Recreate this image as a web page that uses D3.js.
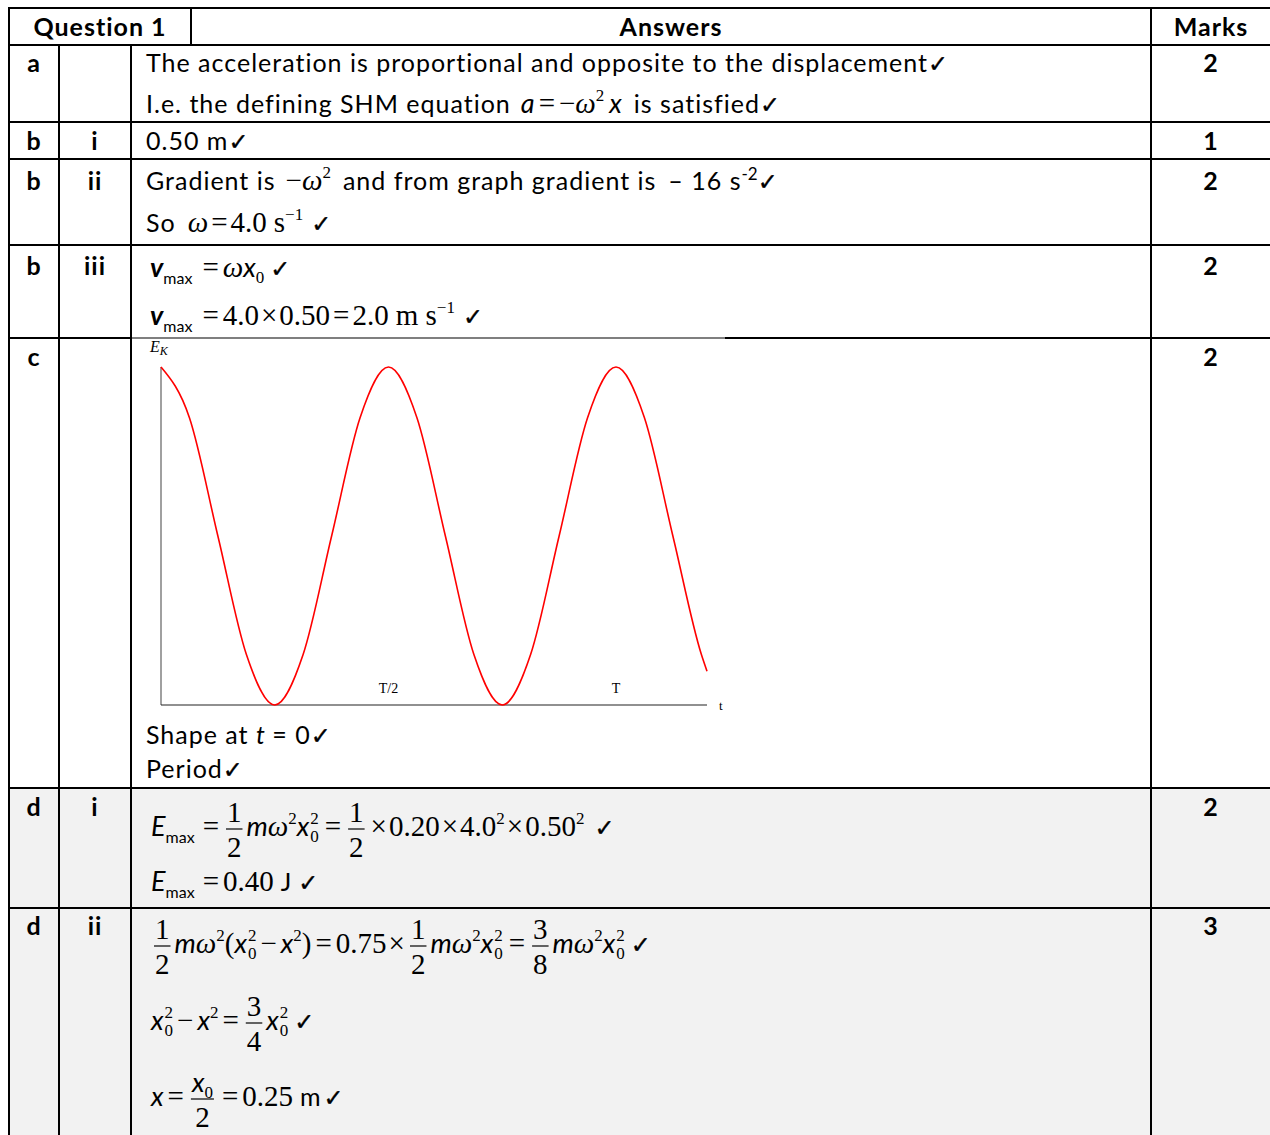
<!DOCTYPE html>
<html><head><meta charset="utf-8">
<script src="https://cdn.jsdelivr.net/npm/d3@7"></script>
<style>html,body{margin:0;padding:0;background:#fff;} svg{display:block;} text{white-space:pre;}</style>
</head><body><svg id="c" width="1270" height="1135"></svg>
<script>
// ---------------- data ----------------
const headerLabels = ["Question 1", "Answers", "Marks"];
const rowLabels = ["a", "b", "b", "b", "c", "d", "d"];
const subLabels = ["", "i", "ii", "iii", "", "i", "ii"];
const marks = [2, 1, 2, 2, 2, 2, 3];
// kinetic energy sketch (t in periods, Ek as fraction of max)
const tValues  = [0, 0.0625, 0.125, 0.1875, 0.25, 0.3125, 0.375, 0.4375, 0.5, 0.5625, 0.625, 0.6875, 0.75, 0.8125, 0.875, 0.9375, 1.0, 1.0625, 1.125, 1.1875, 1.2];
const ekValues = [1, 0.85, 0.5, 0.15, 0, 0.15, 0.5, 0.85, 1, 0.85, 0.5, 0.15, 0, 0.15, 0.5, 0.85, 1, 0.85, 0.5, 0.15, 0.1];
const tickValues = [0.5, 1];
const tickLabels = ["T/2", "T"];
const tMax = 1.2;

// ---------------- layout ----------------
const SANS = "Lato, 'Open Sans', sans-serif";
const SERIF = "'Liberation Serif', 'Times New Roman', serif";
const CHKF = "'DejaVu Sans', sans-serif";
const svg = d3.select("#c");
const X = {left: 9, c1: 59, c2: 131, qdiv: 191, mk: 1151, right: 1271};
const rowTops = [45, 122, 159, 245, 338, 788, 908];
const bottomY = 1135, topY = 8;
const labelBase = [72, 150, 190, 275, 366, 816, 935];

// gray rows
svg.append("rect").attr("x", X.left).attr("y", rowTops[5]).attr("width", X.right - X.left).attr("height", bottomY - rowTops[5]).attr("fill", "#f2f2f2");

const g = svg.append("g");

// segment helpers
const S = (t, o={}) => Object.assign({t, f: SANS, s: 25, ls: 1.0}, o);
const SI = (t, o={}) => Object.assign({t, f: SANS, s: 27, i: true}, o);
const R = (t, o={}) => Object.assign({t, f: SERIF, s: 29}, o);
const RI = (t, o={}) => Object.assign({t, f: SERIF, s: 29, i: true}, o);
const SUP = (t, o={}) => Object.assign({t, f: SERIF, s: 17, dy: -12}, o);
const SUBR = (t, o={}) => Object.assign({t, f: SERIF, s: 17, dy: 6}, o);
const SUBS = (t, o={}) => Object.assign({t, f: SANS, s: 16, dy: 7}, o);
const G = n => ({gap: n});
const OP = (t, a = 4) => [G(a), R(t), G(a)];
const CK = (o={}) => Object.assign({t: "\u2713", f: CHKF, s: 24, sw: 0.35}, o);
const SS = (a, b) => ({subsup: [a, b]});
const F = (num, den) => ({frac: [num, den]});

function put(par, x, y, s) {
  const t = par.append("text").attr("x", x).attr("y", y + (s.dy || 0))
    .attr("font-family", s.f).attr("font-size", s.s)
    .attr("font-style", s.i ? "italic" : null)
    .attr("font-weight", s.b ? "bold" : null)
    .attr("letter-spacing", s.ls || null)
    .attr("fill", "#000")
    .attr("stroke", s.sw ? "#000" : null).attr("stroke-width", s.sw || null)
    .text(s.t);
  return t.node().getComputedTextLength();
}
function run(par, x, y, segsIn) {
  const segs = segsIn.flat();
  let cx = x;
  for (const s of segs) {
    if (s.gap !== undefined) { cx += s.gap; continue; }
    if (s.subsup) {
      const w1 = put(par, cx + 1, y, SUBR(s.subsup[0]));
      const w2 = put(par, cx + 1, y, SUP(s.subsup[1]));
      cx += Math.max(w1, w2) + 1;
      continue;
    }
    if (s.frac) {
      const tmp = par.append("g");
      const wn = run(tmp, 0, 0, s.frac[0]);
      const wd = run(tmp, 0, 0, s.frac[1]);
      tmp.remove();
      cx += 3;
      const w = Math.max(wn, wd) + 2;
      run(par, cx + (w - wn) / 2, y - 14, s.frac[0]);
      run(par, cx + (w - wd) / 2, y + 21, s.frac[1]);
      par.append("line").attr("x1", cx).attr("x2", cx + w).attr("y1", y - 7).attr("y2", y - 7)
        .attr("stroke", "#000").attr("stroke-width", 1.2);
      cx += w + 4;
      continue;
    }
    cx += put(par, cx, y, s);
  }
  return cx - x;
}

function boldText(x, y, t) {
  g.append("text").attr("x", x).attr("y", y).attr("text-anchor", "middle")
    .attr("font-family", SANS).attr("font-weight", "bold").attr("font-size", 25)
    .attr("letter-spacing", 1.0).text(t);
}
// header text
boldText((X.left + X.qdiv) / 2, 36, headerLabels[0]);
boldText((X.qdiv + X.mk) / 2, 36, headerLabels[1]);
boldText((X.mk + X.right) / 2, 36, headerLabels[2]);

// row labels & marks
rowLabels.forEach((l, i) => {
  boldText((X.left + X.c1) / 2, labelBase[i], l);
  boldText((X.c1 + X.c2) / 2, labelBase[i], subLabels[i]);
  boldText((X.mk + X.right) / 2, labelBase[i], marks[i]);
});

// answer lines
const ax = 146;
run(g, ax, 72, [S("The acceleration is proportional and opposite to the displacement"), CK()]);
run(g, ax, 113, [S("I.e. the defining SHM equation"), G(10), SI("a"), OP("="), R("\u2212"), RI("\u03c9"), SUP("2"), G(5), SI("x"), G(12), S("is satisfied"), CK()]);
run(g, ax, 150, [S("0.50 m"), CK()]);
run(g, ax, 190, [S("Gradient is"), G(10), R("\u2212"), RI("\u03c9"), SUP("2"), G(12), S("and from graph gradient is"), G(12), S("\u2013 16 s"), S("-2", {s: 17, dy: -10, ls: 0}), CK()]);
run(g, ax, 232, [S("So"), G(12), RI("\u03c9"), OP("=", 3), R("4.0"), G(7), R("s"), SUP("\u22121"), G(8), CK()]);
run(g, 150, 277, [SI("v", {b: true}), SUBS("max"), G(6), OP("="), RI("\u03c9"), SI("x"), SUBR("0"), G(6), CK()]);
run(g, 150, 325, [SI("v", {b: true}), SUBS("max"), G(6), OP("="), R("4.0"), OP("\u00d7", 2), R("0.50"), OP("=", 3), R("2.0"), G(7), R("m s"), SUP("\u22121"), G(8), CK()]);
run(g, ax, 744, [S("Shape at "), SI("t", {s: 25}), S(" = 0"), CK()]);
run(g, ax, 778, [S("Period"), CK()]);

run(g, 151, 836, [SI("E"), SUBS("max"), G(4), OP("="), F([R("1")], [R("2")]), SI("m"), RI("\u03c9"), SUP("2"), SI("x"), SS("0", "2"), G(2), OP("="), F([R("1")], [R("2")]), OP("\u00d7", 2), R("0.20"), OP("\u00d7", 2), R("4.0"), SUP("2"), OP("\u00d7", 2), R("0.50"), SUP("2"), G(10), CK()]);
run(g, 151, 891, [SI("E"), SUBS("max"), G(4), OP("="), R("0.40"), G(7), S("J"), G(6), CK()]);

run(g, 151, 953, [F([R("1")], [R("2")]), SI("m"), RI("\u03c9"), SUP("2"), R("("), SI("x"), SS("0", "2"), OP("\u2212"), SI("x"), SUP("2"), R(")"), OP("="), R("0.75"), OP("\u00d7", 2), F([R("1")], [R("2")]), SI("m"), RI("\u03c9"), SUP("2"), SI("x"), SS("0", "2"), G(2), OP("="), F([R("3")], [R("8")]), SI("m"), RI("\u03c9"), SUP("2"), SI("x"), SS("0", "2"), G(6), CK()]);
run(g, 151, 1030, [SI("x"), SS("0", "2"), OP("\u2212"), SI("x"), SUP("2"), OP("="), F([R("3")], [R("4")]), SI("x"), SS("0", "2"), G(6), CK()]);
run(g, 151, 1106, [SI("x"), OP("="), F([SI("x"), SUBR("0")], [R("2")]), OP("="), R("0.25"), G(7), S("m"), G(2), CK()]);

// ---------------- chart (part c) ----------------
const xS = d3.scaleLinear().domain([0, tMax]).range([161, 707]);
const yS = d3.scaleLinear().domain([0, 1]).range([705, 367]);
const cg = svg.append("g");
cg.append("rect").attr("x", 140).attr("y", 339).attr("width", 585).attr("height", 375).attr("fill", "#fff");
cg.append("line").attr("x1", xS(0)).attr("x2", xS(0)).attr("y1", yS(1)).attr("y2", yS(0)).attr("stroke", "#808080").attr("stroke-width", 1.5);
cg.append("line").attr("x1", xS(0)).attr("x2", xS(tMax)).attr("y1", yS(0)).attr("y2", yS(0)).attr("stroke", "#222").attr("stroke-width", 1.2);
const pts = tValues.map((t, i) => [t, ekValues[i]]);
cg.append("path").datum(pts)
  .attr("d", d3.line().x(d => xS(d[0])).y(d => yS(d[1])).curve(d3.curveMonotoneX))
  .attr("fill", "none").attr("stroke", "#ff0000").attr("stroke-width", 1.6);
tickValues.forEach((v, i) => {
  cg.append("text").attr("x", xS(v)).attr("y", 693).attr("text-anchor", "middle")
    .attr("font-family", SERIF).attr("font-size", 14).text(tickLabels[i]);
});
cg.append("text").attr("x", 719).attr("y", 710).attr("font-family", SERIF).attr("font-size", 13).text("t");
const ek = cg.append("text").attr("x", 150).attr("y", 352).attr("font-family", SERIF).attr("font-size", 16).attr("font-style", "italic");
ek.append("tspan").text("E");
ek.append("tspan").attr("font-size", 12).attr("dy", 3).text("K");

// ---------------- grid lines ----------------
const L = svg.append("g").attr("stroke", "#000").attr("stroke-width", 2);
const hl = (y, x1, x2, w) => L.append("line").attr("x1", x1).attr("x2", x2).attr("y1", y).attr("y2", y).attr("stroke-width", w || 2);
const vl = (x, y1, y2) => L.append("line").attr("x1", x).attr("x2", x).attr("y1", y1).attr("y2", y2);
hl(topY, X.left - 1, X.right + 1);
rowTops.forEach((y, i) => {
  if (i === 4) {
    hl(y, X.left, X.c2);
    hl(y, X.c2, 725, 1.2);
    hl(y, 725, X.right);
  } else hl(y, X.left, X.right);
});
vl(X.left, topY, bottomY);
vl(X.c1, rowTops[0], bottomY);
vl(X.c2, rowTops[0], bottomY);
vl(X.qdiv, topY, rowTops[0]);
vl(X.mk, topY, bottomY);
vl(X.right, topY, bottomY);
</script></body></html>
